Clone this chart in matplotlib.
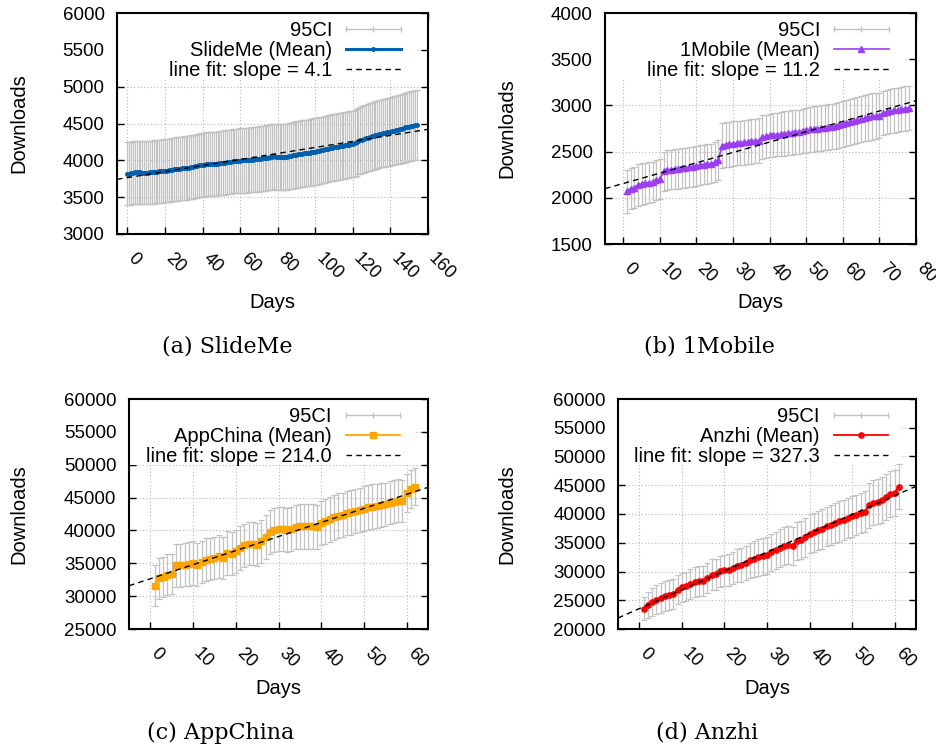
import matplotlib
matplotlib.use("Agg")
import matplotlib.pyplot as plt
from matplotlib.lines import Line2D
from matplotlib.legend_handler import HandlerLine2D
from matplotlib.patches import Rectangle

plt.rcParams['font.family'] = ['Liberation Sans', 'DejaVu Sans']

# ---------------- data ----------------
slideme_days = list(range(0, 155))
slideme_mean = [
    3815, 3820, 3826, 3832, 3836, 3838, 3838, 3836, 3834, 3832,
    3832, 3834, 3837, 3840, 3843, 3846, 3848, 3850, 3852, 3855,
    3857, 3860, 3864, 3868, 3872, 3876, 3880, 3884, 3887, 3890,
    3893, 3896, 3899, 3902, 3906, 3912, 3918, 3924, 3930, 3935,
    3939, 3942, 3945, 3947, 3949, 3951, 3953, 3955, 3957, 3959,
    3962, 3966, 3970, 3974, 3978, 3982, 3986, 3990, 3993, 3995,
    3997, 3998, 3999, 4000, 4002, 4004, 4007, 4010, 4013, 4016,
    4019, 4022, 4025, 4028, 4032, 4036, 4042, 4050, 4054, 4044,
    4042, 4043, 4044, 4046, 4048, 4051, 4055, 4060, 4066, 4072,
    4077, 4081, 4085, 4089, 4093, 4097, 4101, 4106, 4110, 4115,
    4119, 4124, 4130, 4136, 4142, 4148, 4154, 4160, 4166, 4172,
    4177, 4182, 4186, 4190, 4194, 4198, 4203, 4208, 4213, 4218,
    4223, 4230, 4245, 4262, 4272, 4280, 4290, 4300, 4308, 4316,
    4324, 4332, 4340, 4348, 4356, 4363, 4369, 4374, 4379, 4384,
    4388, 4395, 4403, 4410, 4418, 4424, 4430, 4436, 4446, 4452,
    4458, 4464, 4470, 4476, 4482]
slideme_ci = [
    428, 428, 428, 428, 428, 428, 429, 429, 429, 429,
    429, 429, 429, 429, 429, 429, 429, 429, 429, 429,
    429, 430, 430, 430, 430, 430, 430, 431, 431, 431,
    431, 431, 432, 432, 432, 432, 432, 433, 433, 433,
    433, 433, 433, 434, 434, 434, 434, 434, 434, 435,
    435, 435, 435, 435, 435, 435, 435, 435, 435, 435,
    436, 437, 438, 439, 440, 440, 441, 441, 442, 442,
    443, 443, 444, 444, 445, 445, 445, 446, 446, 446,
    446, 447, 447, 448, 448, 449, 449, 450, 450, 451,
    451, 451, 452, 452, 452, 452, 453, 453, 453, 453,
    453, 453, 453, 453, 453, 453, 452, 452, 452, 452,
    452, 452, 452, 452, 452, 452, 451, 451, 451, 451,
    451, 452, 453, 454, 455, 455, 456, 456, 457, 457,
    458, 458, 459, 459, 460, 460, 461, 461, 462, 462,
    462, 463, 464, 465, 466, 467, 467, 468, 469, 470,
    470, 471, 472, 472, 473]
slideme_fit = (4.1, 3765)   # slope, intercept

mobile_days = list(range(1, 79))
mobile_mean = [
    2070, 2100, 2110, 2140, 2150, 2155, 2165, 2170, 2195, 2200,
    2285, 2300, 2305, 2310, 2315, 2320, 2325, 2330, 2335, 2345,
    2355, 2360, 2365, 2370, 2385, 2410, 2565, 2575, 2580, 2585,
    2590, 2595, 2600, 2605, 2610, 2615, 2620, 2660, 2665, 2675,
    2680, 2685, 2690, 2695, 2700, 2705, 2710, 2715, 2720, 2730,
    2740, 2745, 2750, 2755, 2760, 2765, 2770, 2780, 2790, 2800,
    2810, 2820, 2830, 2840, 2850, 2860, 2870, 2880, 2885, 2890,
    2920, 2930, 2940, 2945, 2950, 2960, 2965, 2975]
mobile_ci = [
    230, 225, 225, 225, 225, 225, 225, 220, 215, 215,
    215, 215, 215, 215, 215, 215, 215, 215, 215, 215,
    215, 215, 215, 215, 215, 215, 245, 245, 245, 245,
    240, 240, 240, 240, 240, 240, 240, 235, 235, 235,
    235, 235, 235, 240, 240, 240, 240, 240, 240, 245,
    245, 245, 245, 245, 245, 245, 245, 250, 250, 250,
    250, 250, 250, 250, 250, 250, 250, 250, 245, 245,
    240, 240, 240, 240, 240, 240, 240, 240]
mobile_fit = (11.2, 2155)

appchina_days = list(range(1, 63))
appchina_mean = [
    31600, 32700, 32900, 33250, 33360, 34680, 34680, 34780, 34880, 35030,
    34780, 35180, 35540, 35640, 35790, 36040, 35790, 36550, 36450, 36800,
    37310, 37710, 37970, 37970, 37815, 38320, 38930, 39690, 40090, 40250,
    40200, 40000, 40200, 40450, 40600, 40600, 40600, 40600, 40500, 41110,
    41360, 41710, 41970, 42270, 42370, 42630, 42780, 42980, 43130, 43290,
    43490, 43640, 43740, 43890, 43990, 44250, 44400, 44550, 44550, 45670,
    46320, 46680]
appchina_ci = [
    3170, 3100, 3100, 3100, 3100, 3300, 3300, 3300, 3300, 3300,
    3250, 3250, 3250, 3250, 3250, 3250, 3250, 3300, 3300, 3300,
    3300, 3300, 3300, 3300, 3300, 3300, 3350, 3350, 3350, 3350,
    3350, 3350, 3350, 3350, 3350, 3350, 3350, 3350, 3350, 3400,
    3400, 3400, 3400, 3400, 3400, 3400, 3400, 3400, 3400, 3400,
    3350, 3350, 3350, 3300, 3300, 3300, 3250, 3250, 3200, 2900,
    2900, 2850]
appchina_fit = (214.0, 32650)

anzhi_days = list(range(1, 62))
anzhi_mean = [
    23530, 24225, 24630, 25090, 25380, 25790, 25960, 26080, 26830, 27240,
    27410, 27810, 28160, 28280, 28280, 28860, 29440, 29550, 30010, 30190,
    30300, 30590, 31000, 31170, 31460, 31920, 32210, 32450, 32620, 32790,
    33310, 33660, 34070, 34470, 34530, 34470, 35340, 35510, 35980, 36560,
    36850, 37140, 37370, 37830, 38120, 38410, 38700, 38990, 39280, 39570,
    39860, 40140, 40430, 41530, 42000, 42170, 42460, 42920, 43500, 43730,
    44780]
anzhi_ci = [
    2050, 2250, 2450, 2550, 2600, 2600, 2600, 2600, 2500, 2500,
    2550, 2550, 2600, 2600, 2600, 2650, 2650, 2700, 2700, 2750,
    2800, 2850, 2900, 2950, 3000, 3050, 3100, 3150, 3200, 3200,
    3250, 3250, 3300, 3300, 3300, 3350, 3350, 3350, 3400, 3400,
    3400, 3450, 3450, 3450, 3450, 3450, 3500, 3500, 3500, 3500,
    3500, 3500, 3500, 3900, 3900, 3950, 3950, 4000, 4000, 4000,
    3850]
anzhi_fit = (327.3, 23550)

# ---------------- layout / style per panel ----------------
W, H = 936, 747
panels = [
    dict(name='SlideMe', caption='(a) SlideMe', days=slideme_days, mean=slideme_mean,
         ci=slideme_ci, fit=slideme_fit, color='#0060ad', marker='o', ms=2.5, lw=2.2,
         box=(117, 13, 428, 234), xlim=(-5.5, 160), xticks=range(0, 161, 20),
         ylim=(3000, 6000), yticks=range(3000, 6001, 500),
         key=(0.958, 0.697), leg_x=0.925, ylab_x=19, xlab_y=302, cap=(227, 346)),
    dict(name='1Mobile', caption='(b) 1Mobile', days=mobile_days, mean=mobile_mean,
         ci=mobile_ci, fit=mobile_fit, color='#9b3ff0', marker='^', ms=4.5, lw=1.2,
         box=(605, 13, 916, 244), xlim=(-5, 80), xticks=range(0, 81, 10),
         ylim=(1500, 4000), yticks=range(1500, 4001, 500),
         key=(0.965, 0.71), leg_x=0.925, ylab_x=507, xlab_y=302, cap=(709, 346)),
    dict(name='AppChina', caption='(c) AppChina', days=appchina_days, mean=appchina_mean,
         ci=appchina_ci, fit=appchina_fit, color='#ffa500', marker='s', ms=5, lw=1.3,
         box=(129, 399, 428, 629), xlim=(-5, 65), xticks=range(0, 61, 10),
         ylim=(25000, 60000), yticks=range(25000, 60001, 5000),
         key=(0.957, 0.715), leg_x=0.92, ylab_x=19, xlab_y=688, cap=(221, 733)),
    dict(name='Anzhi', caption='(d) Anzhi', days=anzhi_days, mean=anzhi_mean,
         ci=anzhi_ci, fit=anzhi_fit, color='#ff0000', marker='o', ms=3.8, lw=1.3,
         box=(618, 399, 916, 629), xlim=(-5, 65), xticks=range(0, 61, 10),
         ylim=(20000, 60000), yticks=range(20000, 60001, 5000),
         key=(0.946, 0.713), leg_x=0.92, ylab_x=507, xlab_y=688, cap=(707, 733)),
]

ci_color = '#c2c2c2'

fig = plt.figure(figsize=(W / 100, H / 100), dpi=100)

for p in panels:
    x0, y0, x1, y1 = p['box']
    ax = fig.add_axes([x0 / W, 1 - y1 / H, (x1 - x0) / W, (y1 - y0) / H])

    ax.errorbar(p['days'], p['mean'], yerr=p['ci'], fmt='none', ecolor=ci_color,
                elinewidth=0.9, capsize=2, capthick=0.9, zorder=2)
    mean_line, = ax.plot(p['days'], p['mean'], color=p['color'], lw=p['lw'],
                         marker=p['marker'], ms=p['ms'], zorder=3)
    slope, icpt = p['fit']
    fx = list(p['xlim'])
    fit_line, = ax.plot(fx, [icpt + slope * x for x in fx], color='black', lw=1,
                        ls=(0, (4, 3)), zorder=4)

    ax.set_xlim(*p['xlim'])
    ax.set_ylim(*p['ylim'])
    ax.set_xticks(list(p['xticks']))
    ax.set_yticks(list(p['yticks']))
    ax.grid(True, color='#b8b8b8', linestyle=(0, (1, 2)), linewidth=0.8)
    ax.set_axisbelow(True)
    # gnuplot opaque key area
    kx, ky = p['key']
    ax.add_patch(Rectangle((0, ky), kx, 1 - ky, transform=ax.transAxes,
                           facecolor='white', edgecolor='none', zorder=0.7))

    for s in ax.spines.values():
        s.set_linewidth(1.5)
    ax.tick_params(direction='in', top=True, right=True, length=5, width=1,
                   labelsize=13.5)
    ax.tick_params(axis='y', pad=9)
    ax.tick_params(axis='x', pad=18, labelrotation=-45, labelsize=13)
    plt.setp(ax.get_xticklabels(), ha='left', va='baseline', rotation_mode='anchor')

    ax.set_ylabel('Downloads', fontsize=14.5, va='center')
    ax.yaxis.set_label_coords((p['ylab_x'] - x0) / (x1 - x0), 0.5)
    ax.set_xlabel('Days', fontsize=14.5, va='center')
    ax.xaxis.set_label_coords(0.5, (y1 - p['xlab_y']) / (y1 - y0))

    ci_handle = Line2D([], [], color=ci_color, lw=1, marker='|', ms=5)
    ax.legend([ci_handle, mean_line, fit_line],
              ['95CI', p['name'] + ' (Mean)', 'line fit: slope = %.1f' % slope],
              loc='upper right', bbox_to_anchor=(p['leg_x'], 0.982), frameon=False,
              markerfirst=False, fontsize=14.5, handlelength=2.7, handletextpad=0.7,
              labelspacing=0.05, borderaxespad=0, borderpad=0.2,
              handler_map={ci_handle: HandlerLine2D(numpoints=3, marker_pad=0)})

    cx, cy = p['cap']
    fig.text(cx / W, 1 - cy / H, p['caption'], family='DejaVu Serif', fontsize=16,
             ha='center', va='center')

fig.savefig('out.png', dpi=100)
